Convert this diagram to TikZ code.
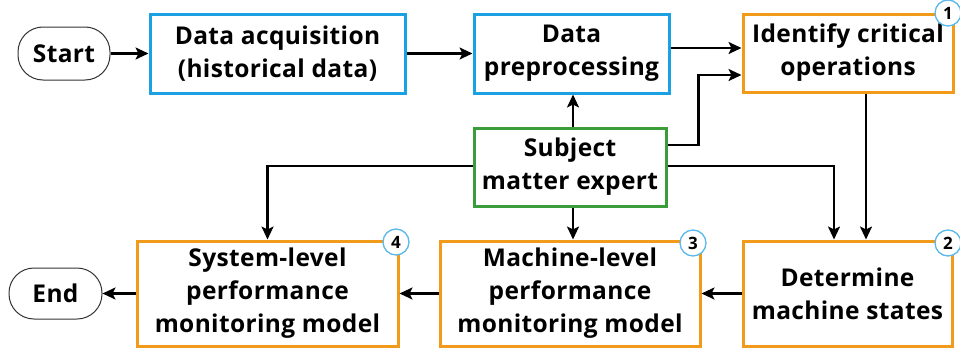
\documentclass[tikz,border=0pt]{standalone}
\usepackage{fontspec}
\setmainfont{Open Sans}[LetterSpace=1.5]
\usetikzlibrary{arrows.meta,calc}
\definecolor{cblue}{HTML}{1BA1E2}
\definecolor{corange}{HTML}{F29A1A}
\definecolor{cgreen}{HTML}{3A9D3A}
\definecolor{ccirc}{HTML}{5BB8EB}
\tikzset{
  box/.style={draw, line width=3pt, align=center, inner sep=0pt,
    font=\fontsize{24.5}{33}\selectfont\bfseries},
  bluebox/.style={box, draw=cblue},
  orangebox/.style={box, draw=corange},
  greenbox/.style={box, draw=cgreen},
  term/.style={draw=black!80, line width=1pt, rounded corners=25pt, inner sep=0pt,
    font=\fontsize{24.5}{33}\selectfont\bfseries},
  arr/.style={draw=black, line width=2.3pt, -{Stealth[length=13pt,width=12pt,inset=3pt]}},
  num/.style={circle, draw=ccirc, fill=white, line width=1.3pt, minimum size=26pt,
    inner sep=0pt, font=\fontsize{17}{17}\selectfont\bfseries}
}
\begin{document}
\begin{tikzpicture}[x=1pt,y=-1pt]
\useasboundingbox (0,0) rectangle (960,356);
\node[term, minimum width=92pt, minimum height=53pt] (start) at (64,53.5) {Start};
\node[bluebox, minimum width=255pt, minimum height=79pt] (acq) at (277.5,53.5) {Data acquisition\\(historical data)};
\node[bluebox, minimum width=195pt, minimum height=79pt] (pre) at (571.5,53.5) {Data\\preprocessing};
\node[orangebox, minimum width=210pt, minimum height=78pt] (ident) at (848,53) {Identify critical\\operations};
\node[greenbox, minimum width=192pt, minimum height=78pt] (sme) at (570,167) {Subject\\matter expert};
\node[orangebox, minimum width=209pt, minimum height=105pt] (det) at (847.5,293.5) {Determine\\machine states};
\node[orangebox, minimum width=260pt, minimum height=105pt] (mach) at (570,293.5) {Machine-level\\performance\\monitoring model};
\node[orangebox, minimum width=261pt, minimum height=105pt] (sys) at (267.5,293.5) {System-level\\performance\\monitoring model};
\node[term, minimum width=93pt, minimum height=51pt] (end) at (55.5,293.5) {End};

\node[num] (n1) at (948,13) {1};
\node[num] (n2) at (948,243) {2};
\node[num] (n3) at (693,243) {3};
\node[num] (n4) at (396,242) {4};

\draw[arr] (start.east) -- (acq.west);
\draw[arr] (acq.east) -- (acq.east -| pre.west);
\draw[arr] ([yshift=5.5pt]pre.east) -- ([yshift=5.5pt]pre.east -| ident.west);
\draw[arr] ([yshift=22pt]sme.east) -- ++(31,0) |- ([yshift=-22pt]ident.west);
\draw[arr] ([xshift=3pt]sme.north) -- ([xshift=3pt]sme.north |- pre.south);
\draw[arr] ([yshift=1pt]sme.east) -| ([xshift=-13.5pt]det.north);
\draw[arr] ([xshift=18pt]ident.south) -- ([xshift=18pt]ident.south |- det.north);
\draw[arr] ([yshift=1pt]sme.west) -| (sys.north);
\draw[arr] ([xshift=3pt]sme.south) -- ([xshift=3pt]sme.south |- mach.north);
\draw[arr] (det.west) -- (mach.east);
\draw[arr] (mach.west) -- (sys.east);
\draw[arr] (sys.west) -- (end.east);
\end{tikzpicture}
\end{document}
